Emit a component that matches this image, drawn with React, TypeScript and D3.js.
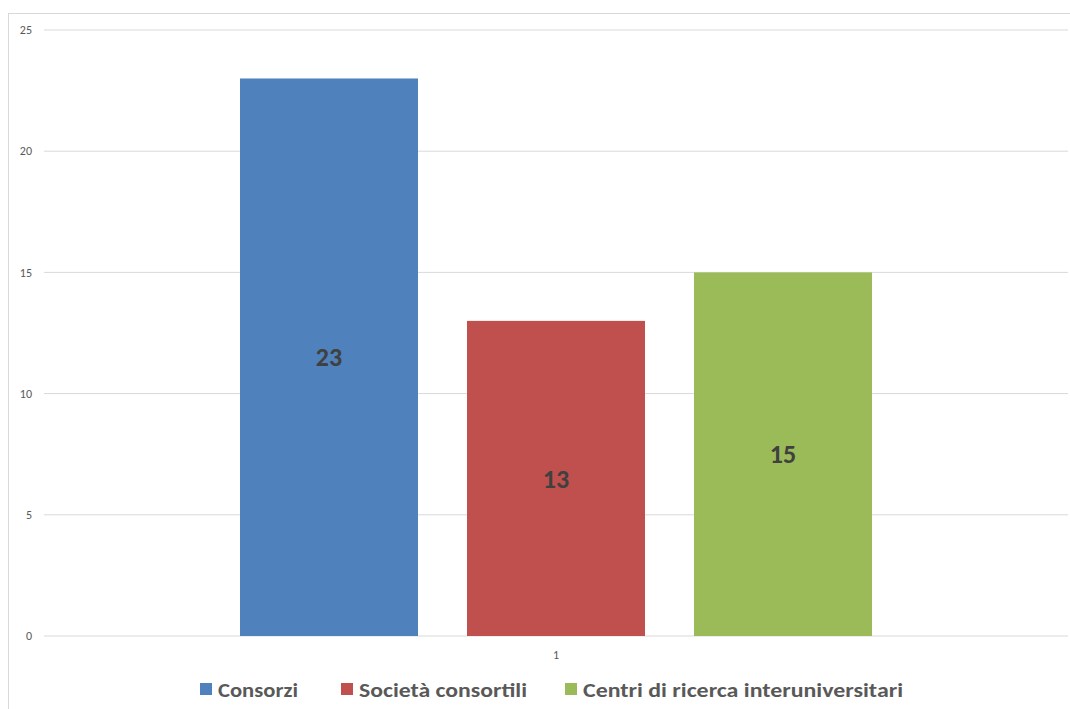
import React from "react";
import * as d3 from "d3";

const categories = ["1"];
const seriesNames = ["Consorzi", "Società consortili", "Centri di ricerca interuniversitari"];
const seriesValues = [23, 13, 15];
const seriesColors = ["#4f81bd", "#c0504d", "#9bbb59"];
const yTicks = [0, 5, 10, 15, 20, 25];

const W = 1070;
const H = 709;
const plot = { left: 44, right: 1068, top: 30, bottom: 636 };
const FONT = "Carlito, Calibri, 'Open Sans', 'Noto Sans', sans-serif";

export default function App() {
  const y = d3.scaleLinear().domain([0, 25]).range([plot.bottom, plot.top]);
  const x0 = d3.scaleBand().domain(categories).range([plot.left, plot.right]).paddingInner(0).paddingOuter(0);
  const groupPad = 196;
  const x1 = d3
    .scaleBand()
    .domain(seriesNames)
    .range([groupPad, x0.bandwidth() - groupPad])
    .paddingInner(49 / 227)
    .paddingOuter(0);

  const legendX = [200, 341, 565];
  const legendW = [80, 168, 320];

  return (
    <svg
      width={W}
      height={H}
      style={{ position: "absolute", left: 0, top: 0, background: "#fff" }}
      fontFamily={FONT}
    >
      <rect x={8.5} y={13.5} width={W} height={H} fill="#fff" stroke="#d9d9d9" strokeWidth={1} />
      {yTicks.map((t) => (
        <g key={t}>
          <line x1={plot.left} x2={plot.right} y1={y(t)} y2={y(t)} stroke="#d9d9d9" strokeWidth={1} />
          <text x={32} y={y(t)} dy="0.35em" textAnchor="end" fontSize={12} fill="#595959">
            {t}
          </text>
        </g>
      ))}
      {categories.map((c) => (
        <g key={c} transform={`translate(${x0(c)},0)`}>
          {seriesNames.map((s, i) => {
            const v = seriesValues[i];
            const bx = x1(s)!;
            const bw = x1.bandwidth();
            return (
              <g key={s}>
                <rect x={bx} y={y(v)} width={bw} height={y(0) - y(v)} fill={seriesColors[i]} />
                <text
                  x={bx + bw / 2}
                  y={(y(v) + y(0)) / 2}
                  dy="0.35em"
                  textAnchor="middle"
                  fontSize={26}
                  fontWeight="bold"
                  fill="#404040"
                >
                  {v}
                </text>
              </g>
            );
          })}
          <text x={x0.bandwidth() / 2} y={655} dy="0.35em" textAnchor="middle" fontSize={12} fill="#595959">
            {c}
          </text>
        </g>
      ))}
      {seriesNames.map((s, i) => (
        <g key={s}>
          <rect x={legendX[i]} y={683} width={12} height={12} fill={seriesColors[i]} />
          <text
            x={legendX[i] + 18}
            y={697}
            fontSize={21}
            fontWeight="bold"
            fill="#595959"
            textLength={legendW[i]}
            lengthAdjust="spacingAndGlyphs"
          >
            {s}
          </text>
        </g>
      ))}
    </svg>
  );
}
